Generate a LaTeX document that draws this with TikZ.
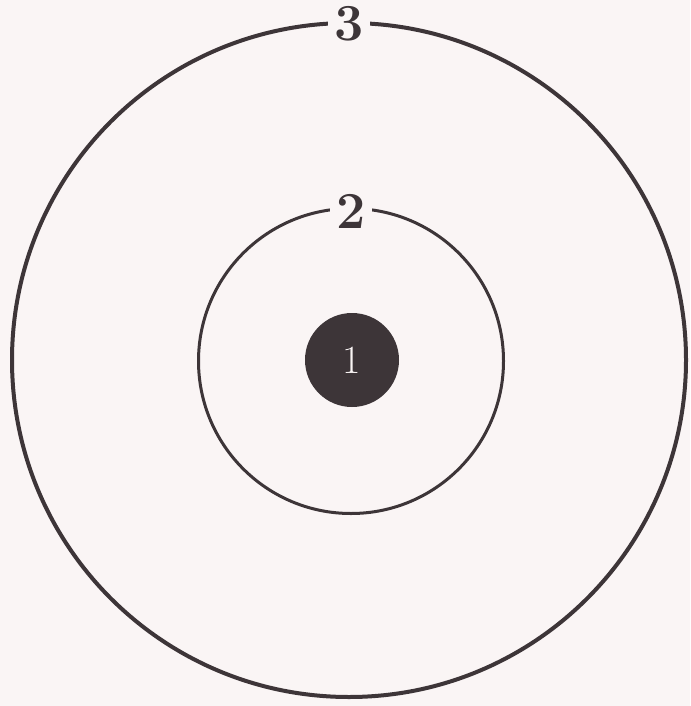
\documentclass[tikz,border=0pt]{standalone}
\usepackage{fontspec}
\setmainfont{Latin Modern Roman}
\definecolor{ink}{HTML}{3D3538}
\definecolor{paper}{HTML}{FAF5F5}
\tikzset{
  ring/.style={draw=ink},
  lbl/.style={fill=paper, text=ink, inner ysep=0pt, inner xsep=6pt, font=\fontsize{52}{52}\selectfont\bfseries},
  core/.style={circle, fill=ink, text=paper, minimum size=94pt, inner sep=0pt, font=\fontsize{40}{40}\selectfont}
}
\begin{document}
\begin{tikzpicture}[x=1pt,y=-1pt]
\fill[paper] (0,0) rectangle (690,706);
\useasboundingbox (0,0) rectangle (690,706);
\draw[ring, line width=4pt] (349,360) circle (337);
\draw[ring, line width=3pt] (351,361) circle (152.5);
\node[core] (n1) at (352,360) {1};
\node[lbl] (n3) at (349,24) {3};
\node[lbl] (n2) at (351,211) {2};
\end{tikzpicture}
\end{document}
